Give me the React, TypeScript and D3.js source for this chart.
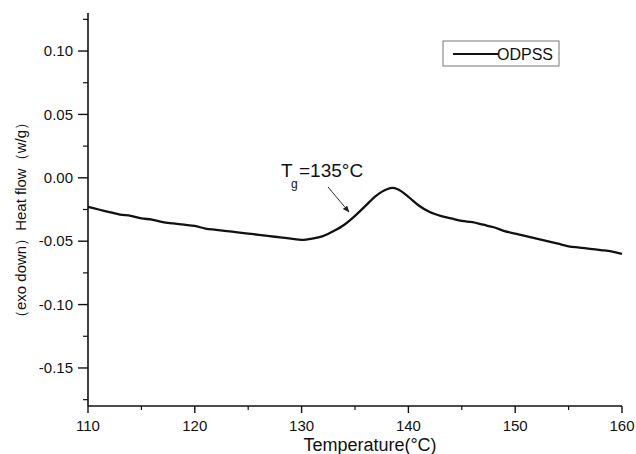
import React from "react";
import * as d3 from "d3";

const temps = [110,111,112,113,114,115,116,117,118,119,120,121,122,123,124,125,126,127,128,129,130,131,132,133,134,135,136,137,138,138.5,139,140,141,142,143,144,145,146,147,148,149,150,151,152,153,154,155,156,157,158,159,160];
const heatFlow = [-0.023,-0.025,-0.027,-0.029,-0.030,-0.032,-0.033,-0.035,-0.036,-0.037,-0.038,-0.040,-0.041,-0.042,-0.043,-0.044,-0.045,-0.046,-0.047,-0.048,-0.049,-0.048,-0.046,-0.042,-0.037,-0.030,-0.022,-0.014,-0.009,-0.008,-0.009,-0.015,-0.022,-0.027,-0.030,-0.032,-0.034,-0.035,-0.037,-0.039,-0.042,-0.044,-0.046,-0.048,-0.050,-0.052,-0.054,-0.055,-0.056,-0.057,-0.058,-0.060];
const xTicks = [110,120,130,140,150,160];
const xMinor = [115,125,135,145,155];
const yTicks = [0.10,0.05,0.00,-0.05,-0.10,-0.15];
const yMinor = [0.125,0.075,0.025,-0.025,-0.075,-0.125,-0.175];
const seriesName = "ODPSS";

export default function App() {
  const W = 636, H = 454;
  const x = d3.scaleLinear().domain([110, 160]).range([88, 622]);
  const y = d3.scaleLinear().domain([-0.18, 0.13]).range([406, 13]);
  const pts = temps.map((t, i) => [t, heatFlow[i]] as [number, number]);
  const line = d3.line<[number, number]>().x(d => x(d[0])).y(d => y(d[1])).curve(d3.curveMonotoneX);
  const font = "'Liberation Sans', Arial, sans-serif";
  const x0 = x(110), y0 = y(-0.18);
  return (
    <svg width={W} height={H} style={{ position: "absolute", left: 0, top: 0, background: "#fff" }}>
      <defs>
        <marker id="arr" viewBox="0 0 10 10" refX="9" refY="5" markerWidth="7" markerHeight="7" orient="auto-start-reverse">
          <path d="M0,1 L10,5 L0,9 z" fill="#222" />
        </marker>
      </defs>
      <rect width={W} height={H} fill="#fff" />
      {/* axes */}
      <line x1={x0} x2={x0} y1={y(0.13)} y2={y0} stroke="#111" strokeWidth={1.6} />
      <line x1={x0} x2={x(160)} y1={y0} y2={y0} stroke="#111" strokeWidth={1.6} />
      {yTicks.map(v => (
        <g key={"y" + v}>
          <line x1={x0 - 10} x2={x0} y1={y(v)} y2={y(v)} stroke="#111" strokeWidth={1.4} />
          <text x={x0 - 15} y={y(v)} dy="0.35em" textAnchor="end" fontFamily={font} fontSize={15} fill="#111">{v.toFixed(2)}</text>
        </g>
      ))}
      {yMinor.map(v => (
        <line key={"ym" + v} x1={x0 - 5} x2={x0} y1={y(v)} y2={y(v)} stroke="#111" strokeWidth={1.2} />
      ))}
      {xTicks.map(v => (
        <g key={"x" + v}>
          <line x1={x(v)} x2={x(v)} y1={y0} y2={y0 + 7} stroke="#111" strokeWidth={1.4} />
          <text x={x(v)} y={431} textAnchor="middle" fontFamily={font} fontSize={15} fill="#111">{v}</text>
        </g>
      ))}
      {xMinor.map(v => (
        <line key={"xm" + v} x1={x(v)} x2={x(v)} y1={y0} y2={y0 + 4} stroke="#111" strokeWidth={1.2} />
      ))}
      <text x={370} y={451} textAnchor="middle" fontFamily={font} fontSize={18} fill="#111">Temperature(°C)</text>
      <text transform={`translate(21,${220}) rotate(-90)`} textAnchor="middle" dy="0.35em" fontFamily={font} fontSize={15} fill="#111">（exo down）Heat flow（w/g）</text>
      {/* curve */}
      <path d={line(pts) || ""} fill="none" stroke="#111" strokeWidth={2.3} strokeLinejoin="round" />
      {/* annotation */}
      <text x={281} y={177} fontFamily={font} fontSize={19} fill="#111">T</text>
      <text x={291} y={188} fontFamily={font} fontSize={12} fill="#111">g</text>
      <text x={299} y={177} fontFamily={font} fontSize={19} fill="#111">=135°C</text>
      <line x1={328} y1={187} x2={349} y2={212} stroke="#333" strokeWidth={1} markerEnd="url(#arr)" />
      {/* legend */}
      <rect x={443} y={41} width={116} height={25} fill="#fff" stroke="#777" strokeWidth={1} />
      <line x1={453} x2={498} y1={54} y2={54} stroke="#111" strokeWidth={2} />
      <text x={497} y={54} dy="0.35em" fontFamily={font} fontSize={16} fill="#111">{seriesName}</text>
    </svg>
  );
}
